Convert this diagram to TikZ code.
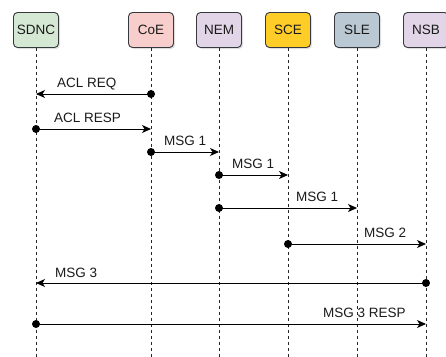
\documentclass[tikz,border=0pt]{standalone}
\usepackage{fontspec}
\setmainfont{Liberation Sans}
\usetikzlibrary{arrows.meta,shadows}
\definecolor{bord}{HTML}{36393D}
\definecolor{cgreen}{HTML}{D5E8D4}
\definecolor{cred}{HTML}{F8CECC}
\definecolor{cpurple}{HTML}{E1D5E7}
\definecolor{cyellow}{HTML}{FFCD28}
\definecolor{cgray}{HTML}{BAC8D3}
\definecolor{txt}{HTML}{1A1A1A}
\tikzset{
  actor/.style={draw=bord, line width=0.9pt, rounded corners=4pt, minimum width=45pt, minimum height=35pt, inner sep=0pt, font=\fontsize{13.5}{15}\selectfont, text=txt, drop shadow={shadow xshift=1.5pt, shadow yshift=-1.5pt, opacity=0.25}},
  life/.style={dashed, line width=0.8pt, dash pattern=on 3pt off 3pt, color=black!85},
  msg/.style={line width=0.9pt, -{Stealth[length=9pt,width=8pt,inset=2.5pt]}, shorten >=0pt},
  dot/.style={circle, fill=black, inner sep=0pt, minimum size=8pt},
  lbl/.style={font=\fontsize{13.5}{15}\selectfont, text=txt, inner sep=0pt},
}
\begin{document}
\begin{tikzpicture}[x=1pt,y=-1pt]
\useasboundingbox (0,0) rectangle (446,356);
% actors
\node[actor, fill=cgreen]  (sdnc) at (36,30)  {SDNC};
\node[actor, fill=cred]    (coe)  at (151,30) {CoE};
\node[actor, fill=cpurple] (nem)  at (219,30) {NEM};
\node[actor, fill=cyellow] (sce)  at (288,30) {SCE};
\node[actor, fill=cgray]   (sle)  at (357,30) {SLE};
\node[actor, fill=cpurple] (nsb)  at (426,30) {NSB};
% lifeline ends
\foreach \n/\x in {sdnc/36,coe/151,nem/219,sce/288,sle/357,nsb/426}{
  \coordinate (\n-end) at (\x,358);
  \draw[life] (\n.south) -- (\n-end);
}
% message points
\coordinate (a1) at (151,94);  \coordinate (a2) at (36,94);
\coordinate (b1) at (36,129);  \coordinate (b2) at (151,129);
\coordinate (c1) at (151,152); \coordinate (c2) at (219,152);
\coordinate (d1) at (219,175); \coordinate (d2) at (288,175);
\coordinate (e1) at (219,208); \coordinate (e2) at (357,208);
\coordinate (f1) at (288,244); \coordinate (f2) at (426,244);
\coordinate (g1) at (426,283); \coordinate (g2) at (36,283);
\coordinate (h1) at (36,324);  \coordinate (h2) at (426,324);
\foreach \s/\t in {a1/a2,b1/b2,c1/c2,d1/d2,e1/e2,f1/f2,g1/g2,h1/h2}{
  \draw[msg] (\s) -- (\t);
  \node[dot] at (\s) {};
}
% labels
\node[lbl, anchor=west] (la) at (57,84)  {ACL REQ};
\node[lbl, anchor=west] (lb) at (54,118) {ACL RESP};
\node[lbl, anchor=west] (lc) at (164,141) {MSG 1};
\node[lbl, anchor=west] (ld) at (232,164) {MSG 1};
\node[lbl, anchor=west] (le) at (296,197) {MSG 1};
\node[lbl, anchor=west] (lf) at (364,233) {MSG 2};
\node[lbl, anchor=west] (lg) at (55,273) {MSG 3};
\node[lbl, anchor=west] (lh) at (323,313) {MSG 3 RESP};
\end{tikzpicture}
\end{document}
